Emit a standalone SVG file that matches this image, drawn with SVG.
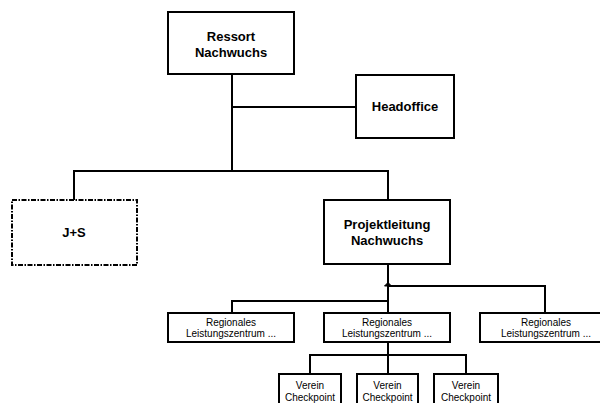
<svg xmlns="http://www.w3.org/2000/svg" width="600" height="403" viewBox="0 0 600 403">
<style>
.box{fill:#fff;stroke:#000;stroke-width:2}
.dash{fill:#fff;stroke:#000;stroke-width:2;stroke-dasharray:5,1.5,1.5,1.5}
.ln{fill:none;stroke:#000;stroke-width:2}
.b{font-family:"Liberation Sans",Arial,sans-serif;font-weight:bold;font-size:13px;text-anchor:middle;fill:#000}
.s{font-family:"Liberation Sans",Arial,sans-serif;font-size:10px;text-anchor:middle;fill:#000}
</style>
<rect width="600" height="403" fill="#fff"/>
<g id="connectors">
<path class="ln" d="M232,74V172M232,107H356M74,200V171H388V200"/>
<path class="ln" d="M388,264V313M388,286H545V313M232,313V301H388"/>
<path d="M384.5,286L388,282.5L391.5,286Z" fill="#000" stroke="#000" stroke-width="1"/>
<path class="ln" d="M388,342V374M310,374V355H466V374"/>
</g>
<g id="ressort"><rect class="box" x="168" y="12" width="126" height="62"/><text class="b" x="231" y="41">Ressort</text><text class="b" x="231" y="57">Nachwuchs</text></g>
<g id="headoffice"><rect class="box" x="356" y="75" width="98" height="63"/><text class="b" x="405" y="111">Headoffice</text></g>
<g id="js"><rect class="dash" x="12" y="200" width="125" height="65"/><text class="b" x="74" y="237">J+S</text></g>
<g id="projektleitung"><rect class="box" x="324" y="200" width="126" height="64"/><text class="b" x="387" y="229">Projektleitung</text><text class="b" x="387" y="245">Nachwuchs</text></g>
<g id="rlz1"><rect class="box" x="168" y="313" width="126" height="29"/><text class="s" x="231" y="326">Regionales</text><text class="s" x="231" y="337">Leistungszentrum ...</text></g>
<g id="rlz2"><rect class="box" x="324" y="313" width="126" height="29"/><text class="s" x="387" y="326">Regionales</text><text class="s" x="387" y="337">Leistungszentrum ...</text></g>
<g id="rlz3"><rect class="box" x="480" y="313" width="130" height="29"/><text class="s" x="546" y="326">Regionales</text><text class="s" x="546" y="337">Leistungszentrum ...</text></g>
<g id="verein1"><rect class="box" x="279" y="374" width="62" height="40"/><text class="s" x="310" y="389">Verein</text><text class="s" x="310" y="400.5">Checkpoint</text></g>
<g id="verein2"><rect class="box" x="357" y="374" width="61" height="40"/><text class="s" x="387.5" y="389">Verein</text><text class="s" x="387.5" y="400.5">Checkpoint</text></g>
<g id="verein3"><rect class="box" x="434" y="374" width="64" height="40"/><text class="s" x="466" y="389">Verein</text><text class="s" x="466" y="400.5">Checkpoint</text></g>
</svg>
